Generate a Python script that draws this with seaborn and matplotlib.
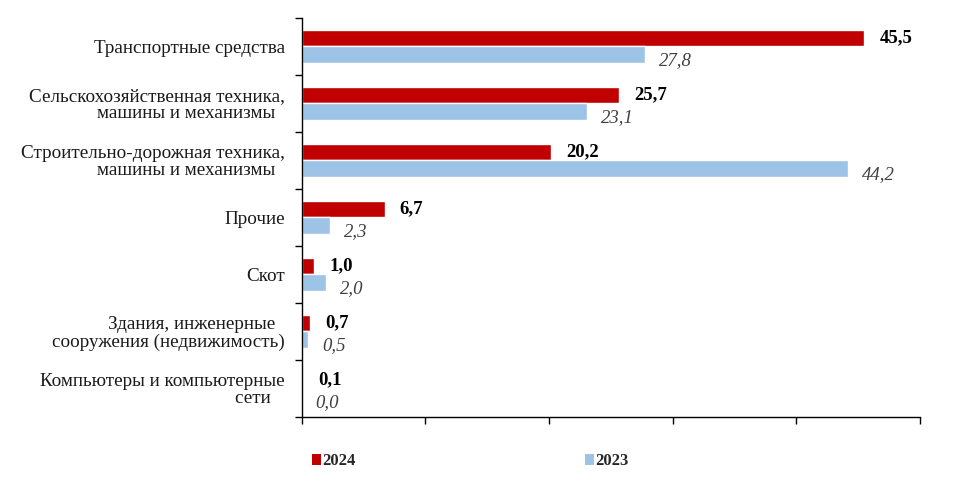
import numpy as np
import pandas as pd
import matplotlib
matplotlib.use("Agg")
import matplotlib.pyplot as plt
import seaborn as sns
from matplotlib.patches import Patch

categories = [
    "Транспортные средства",
    "Сельскохозяйственная техника,\nмашины и механизмы  ",
    "Строительно-дорожная техника,\nмашины и механизмы  ",
    "Прочие",
    "Скот",
    "Здания, инженерные  \nсооружения (недвижимость)",
    "Компьютеры и компьютерные\nсети   ",
]
values_2024 = [45.5, 25.7, 20.2, 6.7, 1.0, 0.7, 0.1]
values_2023 = [27.8, 23.1, 44.2, 2.3, 2.0, 0.5, 0.0]
years = ["2024", "2023"]
colors = {"2024": "#C00000", "2023": "#9DC3E6"}

df = pd.DataFrame({
    "cat": categories * 2,
    "year": ["2024"] * len(categories) + ["2023"] * len(categories),
    "val": values_2024 + values_2023,
})

sns.set_style("white")
plt.rcParams["font.family"] = ["Liberation Serif", "DejaVu Serif"]

fig = plt.figure(figsize=(9.58, 4.83), dpi=100)
ax = fig.add_axes([0.315, 0.137, 0.645, 0.826])

sns.barplot(data=df, y="cat", x="val", hue="year", order=categories,
            hue_order=years, palette=colors, width=0.58, orient="h",
            legend=False, ax=ax, saturation=1)

ax.set_xlim(0, 50)
ax.set_ylim(len(categories) - 0.5, -0.5)
ax.set_xticks(np.arange(0, 51, 10))
ax.set_xticklabels([])
ax.set_xlabel("")
ax.set_ylabel("")
ax.tick_params(axis="y", which="major", length=0, labelsize=13.8,
               labelcolor="#1a1a1a", pad=12)
for lbl in ax.get_yticklabels():
    lbl.set_linespacing(1.0)
ax.set_yticks(np.arange(-0.5, len(categories), 1), minor=True)
ax.tick_params(axis="y", which="minor", left=True, length=5, width=1,
               color="black", direction="out")
ax.tick_params(axis="x", bottom=True, length=5, width=1, color="black",
               direction="out")

for s in ["top", "right"]:
    ax.spines[s].set_visible(False)
for s in ["left", "bottom"]:
    ax.spines[s].set_color("black")
    ax.spines[s].set_linewidth(1)

# value labels
for cont, yr in zip(ax.containers, years):
    if yr == "2024":
        ax.bar_label(cont, labels=[f"{v:.1f}".replace(".", ",") for v in values_2024],
                     padding=11, fontsize=13.5, fontweight="bold", color="black")
    else:
        t = ax.bar_label(cont, labels=[f"{v:.1f}".replace(".", ",") for v in values_2023],
                         padding=10, fontsize=13.5, fontstyle="italic", color="#404040")
        for tx in t:
            tx.xyann = (10, -4)

handles = [Patch(facecolor=colors[y], edgecolor="none", label=y) for y in years]
fig.legend(handles=handles, loc="center left", bbox_to_anchor=(0.31, 0.045),
           ncol=2, frameon=False, handlelength=0.55, handleheight=0.6,
           handletextpad=0.05, columnspacing=13.8,
           prop={"weight": "bold", "size": 12})

fig.savefig("out.png", dpi=100)
